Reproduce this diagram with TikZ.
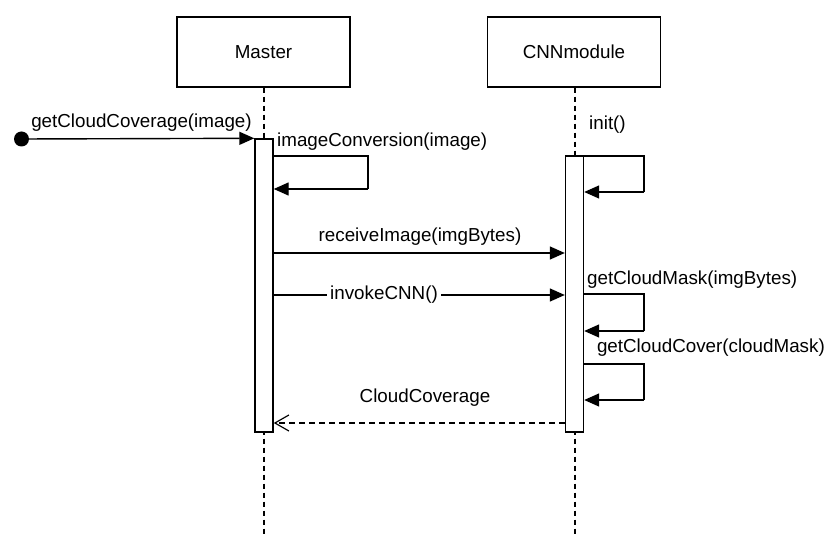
\documentclass[tikz,border=0pt]{standalone}
\usepackage{fontspec}
\setmainfont{Liberation Sans}
\usetikzlibrary{arrows.meta,positioning,calc}
\begin{document}
\begin{tikzpicture}[x=1pt,y=-1pt,
  every node/.style={font=\fontsize{18.8}{23}\selectfont},
  head/.style={draw,line width=1.4pt,minimum width=173pt,minimum height=70pt,inner sep=0pt},
  act/.style={draw,fill=white,line width=1.4pt,minimum width=18pt,inner sep=0pt},
  life/.style={line width=1.4pt,dash pattern=on 5pt off 4pt},
  msg/.style={line width=1.4pt,-{Triangle[length=15pt,width=13pt]}},
  ret/.style={line width=1.2pt,dash pattern=on 6pt off 4pt,-{Straight Barb[length=14pt,width=16pt,line width=1.2pt]}},
  lbl/.style={inner sep=1pt}]
\useasboundingbox (0,0) rectangle (827,534);
% lifeline heads
\node[head] (master) at (263.5,52) {Master};
\node[head] (cnn) at (574,52) {CNNmodule};
% lifelines
\coordinate (mend) at (264,534);
\coordinate (cend) at (575,534);
\draw[life] (master.south -| mend) -- (mend);
\draw[life] (cnn.south -| cend) -- (cend);
% activations
\node[act,minimum height=293pt] (mact) at (264,285.5) {};
\node[act,minimum height=276pt] (cact) at (574.5,294) {};
% start dot
\node[circle,fill=black,inner sep=0pt,minimum size=15pt] (start) at (21.5,139) {};
\draw[msg] (start.center) -- (mact.north west);
\node[lbl] (l1) at (141.5,123) {getCloudCoverage(image)};
% imageConversion self call
\coordinate (ic1) at (mact.east |- 0,156);
\coordinate (ic2) at (368,156);
\coordinate (ic3) at (368,189);
\coordinate (ic4) at (mact.east |- 0,189);
\draw[line width=1.4pt] (ic1) -- (ic2) -- (ic3);
\draw[msg] (ic3) -- (ic4);
\node[lbl,anchor=west] (l2) at (276,142) {imageConversion(image)};
% init self call
\coordinate (in1) at (cact.east |- 0,156);
\coordinate (in2) at (644,156);
\coordinate (in3) at (644,192);
\coordinate (in4) at (cact.east |- 0,192);
\draw[line width=1.4pt] (in1) -- (in2) -- (in3);
\draw[msg] (in3) -- (in4);
\node[lbl,anchor=west] (l3) at (588,125) {init()};
% receiveImage
\coordinate (r1) at (mact.east |- 0,253);
\coordinate (r2) at (cact.west |- 0,253);
\draw[msg] (r1) -- (r2);
\node[lbl] (l4) at (420,237) {receiveImage(imgBytes)};
% invokeCNN
\coordinate (v1) at (mact.east |- 0,295);
\coordinate (v2) at (cact.west |- 0,295);
\draw[msg] (v1) -- (v2);
\node[lbl,fill=white,inner xsep=3pt] (l5) at (384,295) {invokeCNN()};
% getCloudMask self call
\coordinate (g1) at (cact.east |- 0,294);
\coordinate (g2) at (644,294);
\coordinate (g3) at (644,331);
\coordinate (g4) at (cact.east |- 0,331);
\draw[line width=1.4pt] (g1) -- (g2) -- (g3);
\draw[msg] (g3) -- (g4);
\node[lbl,anchor=west] (l6) at (586,280) {getCloudMask(imgBytes)};
% getCloudCover self call
\coordinate (h1) at (cact.east |- 0,364);
\coordinate (h2) at (644,364);
\coordinate (h3) at (644,400);
\coordinate (h4) at (cact.east |- 0,400);
\draw[line width=1.4pt] (h1) -- (h2) -- (h3);
\draw[msg] (h3) -- (h4);
\node[lbl,anchor=east] (l7) at (826,348) {getCloudCover(cloudMask)};
% return
\coordinate (b1) at (cact.west |- 0,423);
\coordinate (b2) at (mact.east |- 0,423);
\draw[ret] (b1) -- (b2);
\node[lbl] (l8) at (425,398) {CloudCoverage};
\end{tikzpicture}
\end{document}
